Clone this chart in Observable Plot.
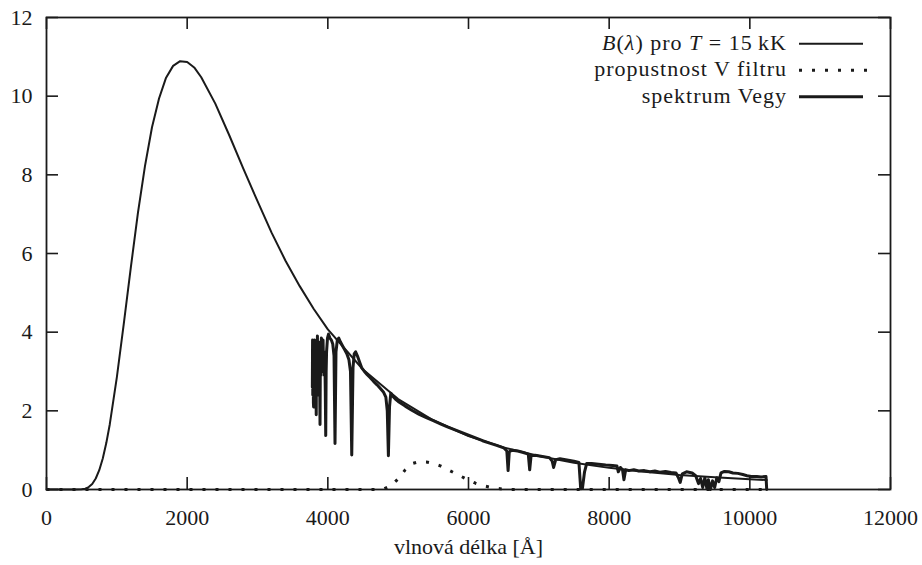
<!DOCTYPE html>
<html><head><meta charset="utf-8">
<script src="https://cdn.jsdelivr.net/npm/d3@7"></script>
<script src="https://cdn.jsdelivr.net/npm/@observablehq/plot@0.6"></script>
<style>
body{margin:0;background:#fff;}
#chart svg, #chart svg text{font-family:"Liberation Serif","Times New Roman",serif !important;}
</style></head><body><div id="chart"></div>
<script>
// Planck curve B(lambda) for T = 15 kK
const planckLam  = [0, 200, 400, 500, 550, 600, 650, 700, 750, 800, 850, 900, 1000, 1100, 1200, 1300, 1400, 1500, 1600, 1700, 1800, 1900, 2000, 2100, 2200, 2400, 2600, 2800, 3000, 3200, 3400, 3600, 3800, 4000, 4500, 5000, 5500, 6000, 6500, 7000, 7500, 8000, 8500, 9000, 9500, 10000, 10240];
const planckFlux = [0, 0, 0, 0.006, 0.022, 0.061, 0.14, 0.28, 0.49, 0.79, 1.18, 1.66, 2.85, 4.23, 5.66, 7.03, 8.22, 9.21, 9.94, 10.47, 10.77, 10.89, 10.87, 10.73, 10.48, 9.81, 9.0, 8.15, 7.33, 6.53, 5.81, 5.17, 4.59, 4.07, 3.05, 2.30, 1.76, 1.36, 1.07, 0.85, 0.68, 0.55, 0.45, 0.37, 0.31, 0.26, 0.24];

// V filter transmission (scaled)
const filterLam  = [0, 4700, 4800, 4900, 5000, 5100, 5200, 5300, 5400, 5500, 5600, 5700, 5800, 5900, 6000, 6100, 6200, 6300, 6400, 6500, 6600, 10240];
const filterFlux = [0, 0, 0.02, 0.1, 0.27, 0.5, 0.66, 0.71, 0.7, 0.66, 0.6, 0.51, 0.42, 0.33, 0.24, 0.16, 0.1, 0.06, 0.03, 0.01, 0, 0];

// Vega spectrum
const vegaLam  = [3780, 3783, 3786, 3789, 3792, 3795, 3798, 3801, 3804, 3808, 3812, 3816, 3820, 3824, 3828, 3831, 3835, 3838, 3842, 3847, 3852, 3857, 3862, 3867, 3872, 3876, 3881, 3885, 3889, 3893, 3897, 3903, 3908, 3914, 3920, 3926, 3932, 3938, 3945, 3951, 3958, 3964, 3970, 3976, 3982, 3995, 4010, 4030, 4050, 4070, 4088, 4102, 4116, 4135, 4155, 4180, 4210, 4240, 4270, 4300, 4322, 4340, 4358, 4375, 4395, 4420, 4450, 4480, 4520, 4560, 4600, 4650, 4700, 4750, 4790, 4825, 4845, 4861, 4877, 4895, 4920, 4960, 5000, 5100, 5200, 5300, 5400, 5500, 5600, 5700, 5800, 5900, 6000, 6100, 6200, 6300, 6400, 6500, 6545, 6563, 6580, 6620, 6700, 6780, 6850, 6870, 6890, 6950, 7050, 7150, 7190, 7210, 7240, 7300, 7400, 7500, 7570, 7595, 7620, 7650, 7680, 7750, 7850, 7950, 8050, 8110, 8130, 8160, 8190, 8210, 8235, 8280, 8350, 8420, 8500, 8580, 8650, 8720, 8800, 8880, 8950, 8985, 9010, 9040, 9100, 9180, 9230, 9270, 9300, 9330, 9360, 9390, 9410, 9440, 9470, 9500, 9530, 9560, 9590, 9640, 9700, 9760, 9830, 9900, 9960, 10020, 10100, 10160, 10230, 10240];
const vegaFlux = [2.6, 3.8, 2.4, 3.5, 3.3, 2.2, 2.1, 3.7, 3.5, 2.5, 3.8, 2.9, 3.2, 2.3, 3.6, 2.7, 1.9, 3.2, 3.7, 2.6, 3.9, 2.8, 3.4, 2.4, 3.75, 2.9, 3.3, 2.6, 1.65, 3.1, 3.6, 2.9, 3.85, 3.1, 3.6, 3.0, 3.8, 3.2, 3.5, 2.9, 3.2, 2.5, 1.37, 3.0, 3.5, 3.85, 3.95, 3.85, 3.8, 3.7, 3.4, 1.17, 3.5, 3.8, 3.85, 3.75, 3.65, 3.55, 3.45, 3.3, 3.0, 0.88, 3.1, 3.45, 3.5, 3.4, 3.25, 3.1, 3.0, 2.92, 2.85, 2.75, 2.66, 2.56, 2.48, 2.35, 2.0, 0.86, 2.1, 2.45, 2.38, 2.3, 2.24, 2.12, 2.01, 1.91, 1.83, 1.75, 1.67, 1.59, 1.52, 1.45, 1.38, 1.31, 1.24, 1.18, 1.12, 1.06, 0.98, 0.48, 0.96, 1.0, 0.98, 0.94, 0.9, 0.5, 0.86, 0.87, 0.84, 0.81, 0.72, 0.56, 0.76, 0.78, 0.75, 0.72, 0.69, 0.02, 0.03, 0.45, 0.66, 0.66, 0.64, 0.62, 0.61, 0.6, 0.45, 0.56, 0.5, 0.25, 0.5, 0.48, 0.5, 0.47, 0.48, 0.45, 0.47, 0.44, 0.46, 0.43, 0.42, 0.3, 0.18, 0.4, 0.45, 0.42, 0.35, 0.15, 0.28, 0.05, 0.3, 0.02, 0.25, 0.0, 0.22, 0.05, 0.3, 0.2, 0.42, 0.46, 0.45, 0.42, 0.41, 0.38, 0.35, 0.33, 0.33, 0.32, 0.33, 0.0];

const xTicks = [0, 2000, 4000, 6000, 8000, 10000, 12000];
const yTicks = [0, 2, 4, 6, 8, 10, 12];
const xLabel = "vlnová délka [Å]";
const legendPlain = ["propustnost V filtru", "spektrum Vegy"];

const planck = planckLam.map((x, i) => ({x, y: planckFlux[i]}));
const filter = filterLam.map((x, i) => ({x, y: filterFlux[i]}));
const vega = vegaLam.map((x, i) => ({x, y: vegaFlux[i]}));

const ink = "#1a1a1a";
const font = "'Liberation Serif', 'Times New Roman', serif";

const plot = Plot.plot({
  width: 922, height: 565,
  marginLeft: 46, marginRight: 32, marginTop: 17, marginBottom: 76,
  style: {fontFamily: font, fontSize: "22px", background: "#fff", color: ink},
  x: {domain: [0, 12000]},
  y: {domain: [0, 12]},
  marks: [
    Plot.line(planck, {x: "x", y: "y", stroke: ink, strokeWidth: 2}),
    Plot.line(filter, {x: "x", y: "y", stroke: ink, strokeWidth: 3, strokeDasharray: "3,10", strokeLinecap: "butt"}),
    Plot.line(vega, {x: "x", y: "y", stroke: ink, strokeWidth: 3}),
    Plot.ruleX(xTicks, {x: d => d, y1: 0, y2: 0, insetTop: -12, stroke: ink, strokeWidth: 1.6}),
    Plot.ruleX(xTicks, {x: d => d, y1: 12, y2: 12, insetBottom: -12, stroke: ink, strokeWidth: 1.6}),
    Plot.ruleY(yTicks, {y: d => d, x1: 0, x2: 0, insetRight: -12, stroke: ink, strokeWidth: 1.6}),
    Plot.ruleY(yTicks, {y: d => d, x1: 12000, x2: 12000, insetLeft: -12, stroke: ink, strokeWidth: 1.6}),
    Plot.frame({stroke: ink, strokeWidth: 1.8}),
    Plot.axisX({ticks: xTicks, tickFormat: d => String(d), tickSize: 0, tickPadding: 20, label: null, fontSize: 22, fill: ink}),
    Plot.axisY({ticks: yTicks, tickFormat: d => String(d), tickSize: 0, tickPadding: 14, label: null, fontSize: 22, fill: ink}),
    Plot.text([xLabel], {text: d => d, frameAnchor: "bottom", lineAnchor: "middle", dy: 57, fontSize: 22, fill: ink, style: "letter-spacing:0.5px"})
  ]
});

// legend
const svg = d3.select(plot);
const g = svg.append("g").attr("font-size", 22).attr("fill", ink)
  .style("font-family", font).style("letter-spacing", "1px");
const rowY = [43.7, 70.2, 96.7];
const tEnd = 787, l0 = 799, l1 = 866;
const t1 = g.append("text").attr("x", tEnd).attr("y", rowY[0] + 6).attr("text-anchor", "end");
t1.append("tspan").attr("font-style", "italic").text("B");
t1.append("tspan").text("(");
t1.append("tspan").attr("font-style", "italic").text("λ");
t1.append("tspan").text(") pro ");
t1.append("tspan").attr("font-style", "italic").text("T");
t1.append("tspan").text(" = 15\u2009kK");
legendPlain.forEach((s, i) => {
  g.append("text").attr("x", tEnd).attr("y", rowY[i + 1] + 6).attr("text-anchor", "end").text(s);
});
g.append("line").attr("x1", l0).attr("x2", l1 - 3).attr("y1", rowY[0]).attr("y2", rowY[0])
  .attr("stroke", ink).attr("stroke-width", 2);
g.append("line").attr("x1", l0).attr("x2", l1 + 3).attr("y1", rowY[1]).attr("y2", rowY[1])
  .attr("stroke", ink).attr("stroke-width", 3).attr("stroke-dasharray", "3,10");
g.append("line").attr("x1", l0).attr("x2", l1 - 3).attr("y1", rowY[2]).attr("y2", rowY[2])
  .attr("stroke", ink).attr("stroke-width", 3);

document.getElementById("chart").appendChild(plot);
</script>
</body></html>
